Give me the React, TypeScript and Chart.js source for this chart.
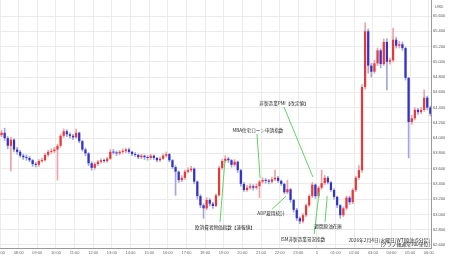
import React, { useEffect, useRef } from 'react';
import { Chart, registerables } from 'chart.js';
Chart.register(...registerables);

// ---- data (10-minute candles from 07:00) ----
const BAR_MINUTES = 10;
const OPEN0 = 64.04;
const CLOSE = [
  64.07, 64.00, 63.90, 63.98, 63.85, 63.82, 63.77, 63.75, 63.74, 63.71,
  63.66, 63.65, 63.70, 63.71, 63.78, 63.82, 63.83, 63.85, 63.90, 64.03,
  64.09, 64.05, 64.03, 64.01, 64.07, 63.96, 63.85, 63.80, 63.67, 63.61,
  63.66, 63.69, 63.71, 63.70, 63.73, 63.82, 63.81, 63.80, 63.82, 63.83,
  63.85, 63.82, 63.79, 63.78, 63.75, 63.77, 63.75, 63.74, 63.77, 63.74,
  63.71, 63.73, 63.77, 63.79, 63.71, 63.62, 63.56, 63.45, 63.48, 63.56,
  63.58, 63.60, 63.43, 63.24, 63.12, 63.08, 63.19, 63.14, 63.11, 63.25,
  63.61, 63.70, 63.73, 63.71, 63.65, 63.69, 63.58, 63.40, 63.32, 63.35,
  63.37, 63.35, 63.37, 63.43, 63.45, 63.44, 63.43, 63.46, 63.48, 63.44,
  63.40, 63.29, 63.33, 63.19, 63.06, 62.95, 62.91, 62.99, 63.12, 63.24,
  63.39, 63.24, 63.35, 63.41, 63.48, 63.42, 63.32, 63.23, 63.12, 62.99,
  63.08, 63.22, 63.16, 63.32, 63.48, 63.58, 64.67, 65.40, 64.95, 64.87,
  64.98, 65.15, 64.97, 65.26, 65.00, 65.02, 65.29, 65.21, 65.23, 65.18,
  64.79, 64.21, 64.26, 64.37, 64.34, 64.37, 64.53, 64.40, 64.32,
];
const HIGH = [
  64.10, 64.13, 64.02, 64.01, 63.99, 63.88, 63.84, 63.79, 63.78, 63.76,
  63.72, 63.68, 63.72, 63.74, 63.80, 63.84, 63.86, 63.88, 63.92, 64.05,
  64.12, 64.11, 64.07, 64.05, 64.12, 64.08, 63.97, 63.87, 63.81, 63.69,
  63.68, 63.71, 63.73, 63.73, 63.75, 63.85, 63.85, 63.83, 63.84, 63.86,
  63.87, 63.87, 63.83, 63.81, 63.79, 63.79, 63.78, 63.77, 63.79, 63.78,
  63.75, 63.75, 63.79, 63.82, 63.80, 63.72, 63.64, 63.57, 63.51, 63.58,
  63.61, 63.63, 63.61, 63.44, 63.26, 63.14, 63.22, 63.21, 63.16, 63.27,
  63.63, 63.72, 63.77, 63.75, 63.72, 63.72, 63.70, 63.59, 63.42, 63.38,
  63.40, 63.39, 63.40, 63.45, 63.48, 63.47, 63.46, 63.49, 63.58, 63.50,
  63.45, 63.41, 63.45, 63.34, 63.20, 63.08, 62.97, 63.01, 63.14, 63.26,
  63.42, 63.40, 63.37, 63.58, 63.51, 63.50, 63.43, 63.34, 63.24, 63.13,
  63.10, 63.24, 63.24, 63.34, 63.50, 63.64, 64.70, 65.51, 65.43, 64.98,
  65.02, 65.18, 65.17, 65.30, 65.30, 65.05, 65.44, 65.32, 65.27, 65.26,
  65.19, 64.80, 64.30, 64.40, 64.39, 64.40, 64.63, 64.55, 64.42,
];
const LOW = [
  64.02, 63.97, 63.86, 63.57, 63.82, 63.79, 63.75, 63.72, 63.71, 63.69,
  63.63, 63.62, 63.63, 63.68, 63.70, 63.76, 63.80, 63.81, 63.45, 63.88,
  64.01, 64.02, 64.00, 63.98, 64.00, 63.94, 63.83, 63.77, 63.64, 63.58,
  63.59, 63.64, 63.67, 63.68, 63.68, 63.72, 63.79, 63.77, 63.78, 63.80,
  63.81, 63.80, 63.77, 63.76, 63.73, 63.73, 63.72, 63.71, 63.72, 63.72,
  63.69, 63.69, 63.72, 63.75, 63.69, 63.60, 63.25, 63.42, 63.43, 63.46,
  63.54, 63.56, 63.40, 63.20, 63.09, 62.95, 63.06, 63.11, 63.08, 63.10,
  63.24, 63.59, 63.68, 63.68, 63.62, 63.63, 63.55, 63.37, 63.30, 63.30,
  63.33, 63.32, 63.33, 63.22, 63.41, 63.41, 63.40, 63.41, 63.44, 63.42,
  63.38, 63.27, 63.27, 63.16, 63.03, 62.92, 62.88, 62.89, 62.97, 63.10,
  63.22, 63.21, 63.22, 63.33, 63.39, 63.40, 63.30, 63.20, 63.09, 62.95,
  62.97, 63.06, 63.13, 63.14, 63.30, 63.46, 63.55, 64.64, 64.85, 64.80,
  64.85, 64.95, 64.92, 64.95, 64.63, 64.97, 65.00, 65.18, 65.18, 65.15,
  64.76, 63.74, 64.18, 64.24, 64.31, 64.32, 64.35, 64.37, 64.29,
];

const X_TICK_LABELS = [
  '07:00', '08:00', '09:00', '10:00', '11:00', '12:00', '13:00', '14:00',
  '15:00', '16:00', '17:00', '18:00', '19:00', '20:00', '21:00', '22:00',
  '23:00', '5', '01:00', '02:00', '03:00', '04:00', '05:00', '06:00',
];
const X_TICK_STEP_MIN = 60;
const X_MAX_MIN = 1387;
const Y_TICKS = [62.6, 62.8, 63.0, 63.2, 63.4, 63.6, 63.8, 64.0, 64.2, 64.4, 64.6, 64.8, 65.0, 65.2, 65.4, 65.6];
const Y_MIN = 62.56;
const Y_MAX = 65.81;
const UNIT = 'USD';
const CAPTION = ['2026年2月4日(水曜日)WTI原油(5分足)', '[グラフ軸通常100単位]'];

// annotations in data space: text anchor (minutes, value), line from/to
const NOTES = [
  { text: 'MBA住宅ローン申請指数', tx: 830, tv: 64.106, from: [827, 64.054], to: [837, 63.477] },
  { text: '非製造業PMI【改定値】', tx: 914, tv: 64.46, from: [914, 64.408], to: [1007, 63.49] },
  { text: 'ADP雇用統計', tx: 872, tv: 63.019, from: [876, 63.071], to: [921, 63.241] },
  { text: '欧消費者物価指数【速報値】', tx: 724, tv: 62.835, from: [708, 62.9], to: [724, 63.713] },
  { text: 'ISM非製造業景況指数', tx: 975, tv: 62.678, from: [1011, 62.743], to: [1027, 63.294] },
  { text: '週間原油在庫', tx: 1056, tv: 62.848, from: [1046, 62.901], to: [1053, 63.241] },
];

const RED = '#e63a3a';
const BLUE = '#3232c6';
const RED_WICK = '#eea2aa';
const BLUE_WICK = '#a4a4e2';
const GRID = '#ebebeb';
const AXIS = '#9a9a9a';
const TICK_FONT = '"Liberation Sans", Arial, sans-serif';
const JP_FONT = '"Noto Sans CJK JP", sans-serif';

const notesPlugin = {
  id: 'notes',
  afterDatasetsDraw(chart: any) {
    const { ctx, chartArea } = chart;
    const xs = chart.scales.x;
    const ys = chart.scales.y;
    ctx.save();
    NOTES.forEach((n) => {
      ctx.strokeStyle = '#62d262';
      ctx.lineWidth = 1;
      ctx.beginPath();
      ctx.moveTo(xs.getPixelForValue(n.from[0]), ys.getPixelForValue(n.from[1]));
      ctx.lineTo(xs.getPixelForValue(n.to[0]), ys.getPixelForValue(n.to[1]));
      ctx.stroke();
    });
    ctx.font = '4.6px ' + JP_FONT;
    ctx.fillStyle = '#1e1e1e';
    ctx.textAlign = 'center';
    ctx.textBaseline = 'middle';
    NOTES.forEach((n) => {
      ctx.fillText(n.text, xs.getPixelForValue(n.tx), ys.getPixelForValue(n.tv));
    });
    ctx.textAlign = 'right';
    ctx.font = '4.8px ' + JP_FONT;
    ctx.fillText(CAPTION[0], chartArea.right - 1, chartArea.bottom - 8);
    ctx.fillText(CAPTION[1], chartArea.right - 1, chartArea.bottom - 3.5);
    ctx.textAlign = 'left';
    ctx.font = '4px ' + TICK_FONT;
    ctx.fillStyle = '#555';
    ctx.fillText(UNIT, chartArea.right + 4, 7);
    ctx.restore();
  },
};

export default function App() {
  const ref = useRef<HTMLCanvasElement | null>(null);
  useEffect(() => {
    if (!ref.current) return;
    const opens = CLOSE.map((c, i) => (i === 0 ? OPEN0 : CLOSE[i - 1]));
    const times = CLOSE.map((_, i) => i * BAR_MINUTES + BAR_MINUTES / 2);
    const up = CLOSE.map((c, i) => c >= opens[i]);
    const chart = new Chart(ref.current, {
      type: 'bar',
      data: {
        datasets: [
          {
            label: 'body',
            data: times.map((t, i) => ({ x: t, y: [opens[i], CLOSE[i]] })) as any,
            backgroundColor: up.map((u) => (u ? RED : BLUE)),
            borderWidth: 0,
            grouped: false,
            barPercentage: 0.72,
            categoryPercentage: 1,
            minBarLength: 1,
            order: 0,
          } as any,
          {
            label: 'wick',
            data: times.map((t, i) => ({ x: t, y: [LOW[i], HIGH[i]] })) as any,
            backgroundColor: up.map((u) => (u ? RED_WICK : BLUE_WICK)),
            borderWidth: 0,
            grouped: false,
            barThickness: 1,
            order: 1,
          } as any,
        ],
      },
      options: {
        responsive: false,
        animation: false,
        layout: { padding: 0 },
        plugins: { legend: { display: false }, tooltip: { enabled: false } },
        scales: {
          x: {
            type: 'linear',
            min: 0,
            max: X_MAX_MIN,
            offset: false,
            grid: { color: GRID, offset: false, drawTicks: false, lineWidth: 1 },
            border: { color: AXIS, width: 1 },
            afterBuildTicks: (s: any) => {
              s.ticks = X_TICK_LABELS.map((_, i) => ({ value: i * X_TICK_STEP_MIN }));
            },
            afterFit: (s: any) => {
              s.height = 10;
              s.paddingLeft = 0;
              s.paddingRight = 0;
            },
            ticks: {
              autoSkip: false,
              maxRotation: 0,
              padding: 2,
              color: '#666',
              font: { size: 4, family: TICK_FONT },
              callback: (_v: any, i: number) => X_TICK_LABELS[i],
            },
          },
          y: {
            type: 'linear',
            position: 'right',
            min: Y_MIN,
            max: Y_MAX,
            grid: { color: GRID, drawTicks: false },
            border: { color: AXIS, width: 1 },
            afterBuildTicks: (s: any) => {
              s.ticks = Y_TICKS.map((v) => ({ value: v }));
            },
            afterFit: (s: any) => {
              s.width = 19;
              s.paddingTop = 0;
              s.paddingBottom = 0;
            },
            ticks: {
              padding: 2,
              color: '#555',
              font: { size: 4, family: TICK_FONT },
              callback: (v: any) => Number(v).toFixed(3),
            },
          },
        },
      } as any,
      plugins: [notesPlugin],
    });
    return () => chart.destroy();
  }, []);
  return (
    <div style={{ position: 'fixed', left: 0, top: 0, width: 450, height: 258, background: '#fff' }}>
      <canvas ref={ref} width={450} height={258} />
    </div>
  );
}
